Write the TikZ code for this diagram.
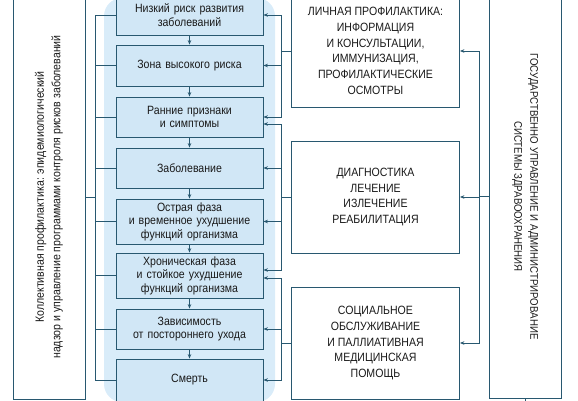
\documentclass[tikz,border=0pt]{standalone}
\usepackage{fontspec}
\setmainfont{Liberation Sans}[FakeStretch=0.88]
\usepackage{tikz}
\usetikzlibrary{arrows.meta,positioning}
\definecolor{linecol}{RGB}{40,88,112}
\definecolor{panelcol}{RGB}{217,236,249}
\definecolor{stagecol}{RGB}{209,231,246}
\definecolor{textcol}{RGB}{25,25,25}

\begin{document}
\begin{tikzpicture}[x=1pt,y=1pt,
  stage/.style={draw=linecol,fill=stagecol,line width=0.8pt,text=textcol,
    minimum width=147pt,text width=140pt,align=center,inner sep=0pt,
    font=\fontsize{12}{13.5}\selectfont},
  care/.style={draw=linecol,line width=0.8pt,text=textcol,minimum width=168pt,
    minimum height=112pt,align=center,font=\fontsize{12}{15.7}\selectfont},
  side/.style={draw=linecol,line width=0.8pt,text=textcol,minimum width=404pt,
    minimum height=72pt,align=center,font=\fontsize{12}{16.5}\selectfont},
  link/.style={draw=linecol,line width=0.8pt},
  arr/.style={link,-{Stealth[length=4.5pt,width=3.5pt]}}]

\useasboundingbox (0,0) rectangle (578,-400);
\clip (0,0) rectangle (578,-400);

% background of the stages
\fill[panelcol,rounded corners=18pt] (104,2) rectangle (275,-402);

% stages
\node[stage,minimum height=40pt] (s1) at (189.5,-15) {Низкий риск развития\\заболеваний};
\node[stage,minimum height=41pt] (s2) at (189.5,-65.5) {Зона высокого риска};
\node[stage,minimum height=40pt] (s3) at (189.5,-117) {Ранние признаки\\и симптомы};
\node[stage,minimum height=40pt] (s4) at (189.5,-168) {Заболевание};
\node[stage,minimum height=45pt] (s5) at (189.5,-221.5) {Острая фаза\\и временное ухудшение\\функций организма};
\node[stage,minimum height=45pt] (s6) at (189.5,-275.5) {Хроническая фаза\\и стойкое ухудшение\\функций организма};
\node[stage,minimum height=40pt] (s7) at (189.5,-329) {Зависимость\\от постороннего ухода};
\node[stage,minimum height=42pt] (s8) at (189.5,-380) {Смерть};

% care
\node[care] (prev) at (375.5,-51) {ЛИЧНАЯ ПРОФИЛАКТИКА:\\ИНФОРМАЦИЯ\\И КОНСУЛЬТАЦИИ,\\ИММУНИЗАЦИЯ,\\ПРОФИЛАКТИЧЕСКИЕ\\ОСМОТРЫ};
\node[care] (cure) at (375.5,-197) {ДИАГНОСТИКА\\ЛЕЧЕНИЕ\\ИЗЛЕЧЕНИЕ\\РЕАБИЛИТАЦИЯ};
\node[care] (help) at (375.5,-343) {СОЦИАЛЬНОЕ\\ОБСЛУЖИВАНИЕ\\И ПАЛЛИАТИВНАЯ\\МЕДИЦИНСКАЯ\\ПОМОЩЬ};

% sides
\node[side,rotate=90] (coll) at (49,-197) {Коллективная профилактика: эпидемиологический\\надзор и управление программами контроля рисков заболеваний};
\node[side,rotate=-90,minimum width=403pt,font=\fontsize{11}{16}\selectfont] (gov) at (525,-196.5) {ГОСУДАРСТВЕННО УПРАВЛЕНИЕ И АДМИНИСТРИРОВАНИЕ\\СИСТЕМЫ ЗДРАВООХРАНЕНИЯ};

% stage to stage
\foreach \a/\b in {s1/s2,s2/s3,s3/s4,s4/s5,s5/s6,s6/s7,s7/s8}
  \draw[arr] (\a) -- (\b);

% left bus
\draw[link] (coll.south) -- ++(10,0) coordinate (lbus);
\foreach \s in {s1,s2,s3,s4,s5,s6,s7,s8}
  \draw[link] (lbus) |- (\s.west);

% care to stages
\draw[link] (prev.west) -- ++(-9.5,0) coordinate (pbus);
\draw[arr] (pbus) |- (s1.east);
\draw[arr] (pbus) |- (s2.east);
\draw[arr] (pbus) |- (s3.east);

\draw[link] (cure.west) -- ++(-9.5,0) coordinate (cbus);
\draw[arr] (cbus) |- ([yshift=-7pt]s3.east);
\draw[arr] (cbus) |- (s4.east);
\draw[arr] (cbus) |- (s5.east);
\draw[arr] (cbus) |- ([yshift=5.5pt]s6.east);

\draw[link] (help.west) -- ++(-9.5,0) coordinate (hbus);
\draw[arr] (hbus) |- ([yshift=-2.5pt]s6.east);
\draw[arr] (hbus) |- (s7.east);
\draw[arr] (hbus) |- (s8.east);

% government to care
\draw[link] (gov.south) -- ++(-9,0) coordinate (gbus);
\draw[arr] (gbus) |- (prev.east);
\draw[arr] (gbus) |- (cure.east);
\draw[arr] (gbus) |- (help.east);
\draw[link] (gov.east) -- ++(0,-6);

\end{tikzpicture}
\end{document}
